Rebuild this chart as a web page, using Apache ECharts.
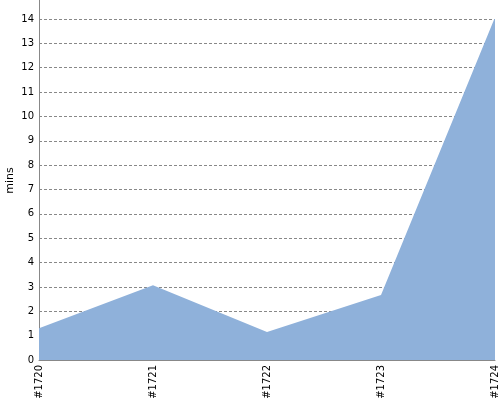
<!DOCTYPE html>
<html><head><meta charset="utf-8">
<script src="https://cdn.jsdelivr.net/npm/echarts@6/dist/echarts.min.js"></script>
<style>html,body{margin:0;padding:0;background:#fff}#c{width:500px;height:400px}</style>
</head><body><div id="c"></div>
<script>
const categories = ['#1720', '#1721', '#1722', '#1723', '#1724'];
const minsValues = [1.3, 3.07, 1.15, 2.67, 14.07];
const yAxisName = 'mins';

const chart = echarts.init(document.getElementById('c'), null, {renderer: 'canvas'});
chart.setOption({
  animation: false,
  grid: {left: 39, right: 5, top: 19, bottom: 40, containLabel: false, outerBoundsMode: 'none'},
  xAxis: {
    type: 'category', data: categories, boundaryGap: false,
    axisLine: {lineStyle: {color: '#888', width: 1}},
    axisTick: {show: false},
    axisLabel: {rotate: 90, color: '#000', fontFamily: 'DejaVu Sans', fontSize: 10, margin: 5},
    splitLine: {show: false}
  },
  yAxis: {
    type: 'value', min: 0, max: 14, interval: 1,
    name: yAxisName, nameLocation: 'middle', nameGap: 23, nameRotate: 90, nameMoveOverlap: false,
    nameTextStyle: {color: '#000', fontFamily: 'DejaVu Sans', fontSize: 11, padding: [0, 0, 0, 18]},
    axisLine: {show: true, lineStyle: {color: '#888', width: 1}},
    axisTick: {show: false},
    axisLabel: {color: '#000', fontFamily: 'DejaVu Sans', fontSize: 10, margin: 5},
    splitLine: {show: true, lineStyle: {color: '#888', type: [3, 2], width: 1}}
  },
  graphic: [{type: 'line', shape: {x1: 39.5, y1: 0, x2: 39.5, y2: 19}, style: {stroke: '#888', lineWidth: 1}, z: 10}],
  series: [{
    type: 'line', data: minsValues, symbol: 'none',
    lineStyle: {width: 0},
    areaStyle: {color: '#8fb1da', opacity: 1},
    z: 1
  }]
});
</script></body></html>
